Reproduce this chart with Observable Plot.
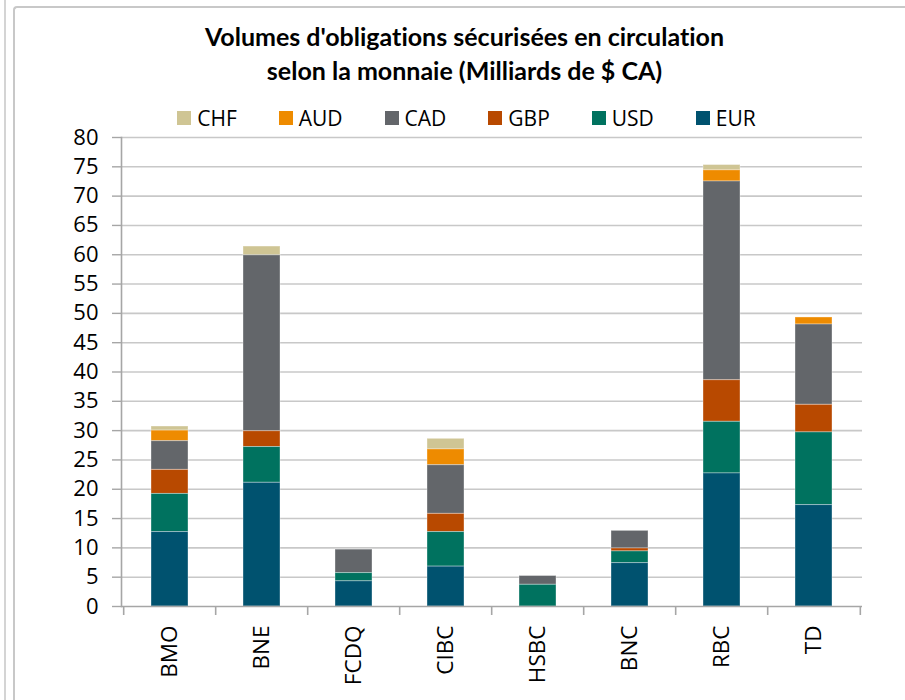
<!DOCTYPE html>
<html>
<head>
<meta charset="utf-8">
<script src="https://cdn.jsdelivr.net/npm/d3@7"></script>
<script src="https://cdn.jsdelivr.net/npm/@observablehq/plot@0.6"></script>
<style>
  html, body { margin: 0; padding: 0; background: #fff; }
  #page { position: relative; width: 905px; height: 700px; overflow: hidden; background: #fff; }
  #outer { position: absolute; left: 4px; top: 0; width: 2px; height: 700px; background: #d4d4d4; }
  #frame { position: absolute; left: 13px; top: 6px; width: 940px; height: 760px;
           border-left: 2px solid #c8c8c8; border-top: 2px solid #c8c8c8; border-top-left-radius: 4px; }
  #title { position: absolute; left: 0; top: 19px; width: 905px; padding-left: 24px; box-sizing: border-box;
           text-align: center; font-family: Lato, "Open Sans", sans-serif; font-weight: 700;
           font-size: 25px; line-height: 34px; color: #000;
           font-variant-ligatures: none; font-feature-settings: "liga" 0; }
  #legend { position: absolute; left: 0; top: 103px; width: 905px; padding-left: 28px; box-sizing: border-box;
            display: flex; justify-content: center; gap: 42px;
            font-family: "Open Sans", sans-serif; font-size: 21px; color: #000; }
  .item { display: flex; align-items: center; height: 30px; }
  .sw { width: 14px; height: 14px; margin-right: 6px; }
  #chart { position: absolute; left: 0; top: 130px; }
</style>
</head>
<body>
<div id="page">
  <div id="outer"></div>
  <div id="frame"></div>
  <div id="title">Volumes d'obligations sécurisées en circulation<br>selon la monnaie (Milliards de $ CA)</div>
  <div id="legend"></div>
  <div id="chart"></div>
</div>
<script>
const banks = ["BMO", "BNE", "FCDQ", "CIBC", "HSBC", "BNC", "RBC", "TD"];
const currencies = ["CHF", "AUD", "CAD", "GBP", "USD", "EUR"];
const stackOrder = ["EUR", "USD", "GBP", "CAD", "AUD", "CHF"];
const colors = ["#cfc594", "#ee8b00", "#63666a", "#b84900", "#00725f", "#00526f"];

const EUR = [12.7, 21.1, 4.3, 6.8, 0.0, 7.4, 22.7, 17.3];
const USD = [6.5, 6.1, 1.4, 5.9, 3.7, 2.0, 8.8, 12.4];
const GBP = [4.1, 2.7, 0.0, 3.1, 0.0, 0.5, 7.1, 4.7];
const CAD = [4.9, 30.0, 4.0, 8.3, 1.5, 3.0, 33.9, 13.7];
const AUD = [1.8, 0.0, 0.0, 2.7, 0.0, 0.0, 1.9, 1.2];
const CHF = [0.7, 1.5, 0.0, 1.8, 0.0, 0.0, 0.9, 0.0];

const yTicks = [0, 5, 10, 15, 20, 25, 30, 35, 40, 45, 50, 55, 60, 65, 70, 75, 80];

const series = {CHF, AUD, CAD, GBP, USD, EUR};
const data = banks.flatMap((bank, i) =>
  currencies.map(currency => ({bank, currency, value: series[currency][i]}))
).filter(d => d.value > 0);

// legend
const legend = document.getElementById("legend");
currencies.forEach((c, i) => {
  const it = document.createElement("div");
  it.className = "item";
  it.innerHTML = `<span class="sw" style="background:${colors[i]}"></span><span>${c}</span>`;
  legend.appendChild(it);
});

const W = 905, H = 570, ML = 121, MR = 43, MT = 7, MB = 94;
const step = (W - ML - MR) / banks.length;

const chart = Plot.plot({
  width: W,
  height: H,
  marginLeft: ML,
  marginRight: MR,
  marginTop: MT,
  marginBottom: MB,
  style: {fontFamily: "'Open Sans', sans-serif", fontSize: "22px", color: "#000", background: "transparent", overflow: "visible"},
  x: {domain: banks, paddingInner: 0.6, paddingOuter: 0.3, axis: null, label: null},
  y: {domain: [0, 80], axis: null, label: null},
  color: {domain: currencies, range: colors},
  marks: [
    Plot.ruleY(yTicks.filter(d => d > 0), {stroke: "#c8c8c8", strokeWidth: 1.6}),
    Plot.barY(data, {x: "bank", y: "value", fill: "currency", order: stackOrder,
                     stroke: "#ffffff", strokeOpacity: 0.35, strokeWidth: 1}),
    Plot.ruleY([0], {stroke: "#a6a6a6", strokeWidth: 1.6}),
    Plot.frame({anchor: "left", stroke: "#a6a6a6", strokeWidth: 1.6}),
    Plot.axisY({ticks: yTicks, tickSize: 9, tickPadding: 14, stroke: "#a6a6a6", strokeWidth: 1.4,
                fontSize: 22, tickFormat: d => String(d), label: null}),
    Plot.ruleX(banks, {x: d => d, dx: -step / 2, y1: 0, y2: 0, insetBottom: -9, stroke: "#a6a6a6", strokeWidth: 1.6}),
    Plot.ruleX(banks.slice(-1), {x: d => d, dx: step / 2, y1: 0, y2: 0, insetBottom: -9, stroke: "#a6a6a6", strokeWidth: 1.6}),
    Plot.axisX({tickRotate: -90, tickSize: 0, tickPadding: 19, fontSize: 22.5, label: null})
  ]
});
document.getElementById("chart").appendChild(chart);
</script>
</body>
</html>
